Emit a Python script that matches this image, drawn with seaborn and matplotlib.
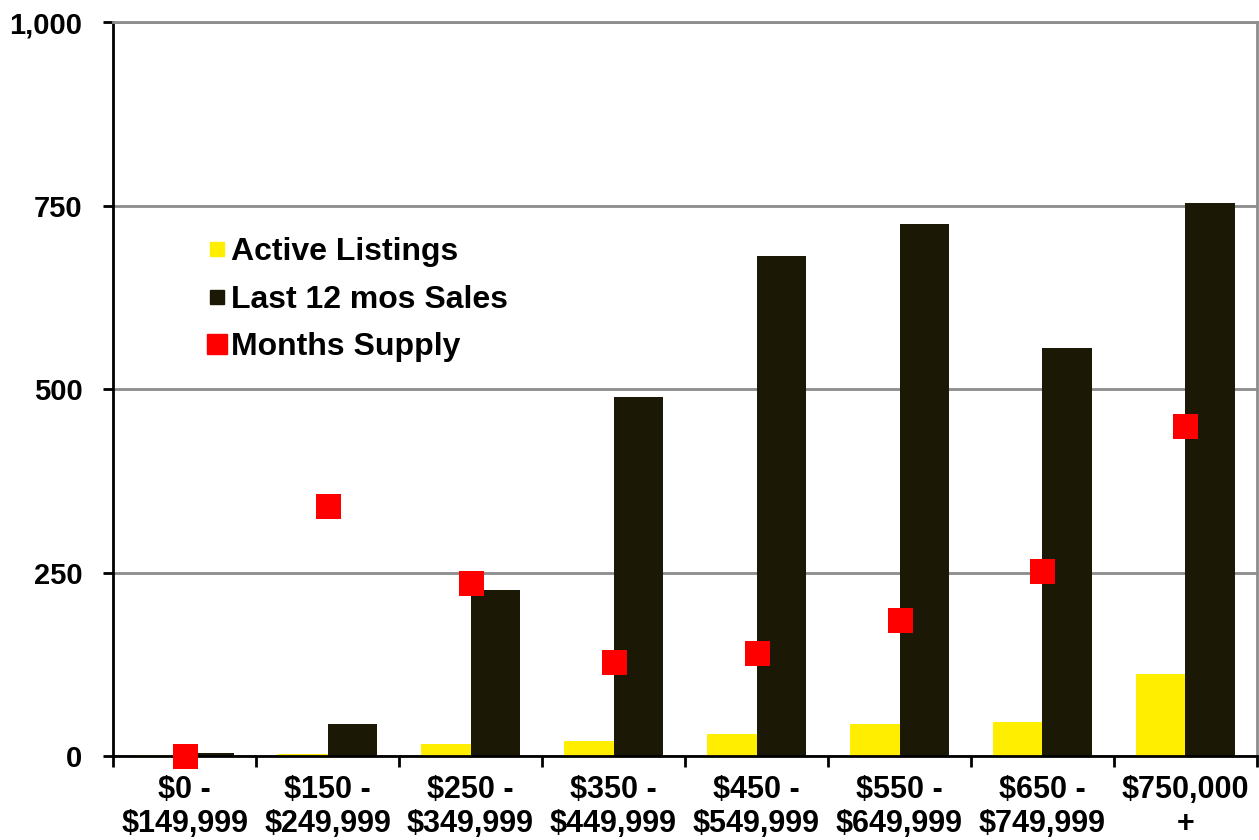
import numpy as np
import pandas as pd
import matplotlib
matplotlib.use("Agg")
import matplotlib.pyplot as plt
from matplotlib.lines import Line2D
from matplotlib.ticker import FuncFormatter, FixedLocator
import seaborn as sns

# data
price_ranges = ["$0 -\n$149,999", "$150 -\n$249,999", "$250 -\n$349,999", "$350 -\n$449,999",
                "$450 -\n$549,999", "$550 -\n$649,999", "$650 -\n$749,999", "$750,000\n+"]
active_listings = [1, 3, 16, 20, 30, 44, 46, 112]
last_12_sales = [4, 44, 226, 489, 681, 725, 556, 753]
months_supply = [0, 341, 236, 128, 140, 185, 252, 450]   # plotted on the left scale

sns.set_style("white")
plt.rcParams['font.family'] = ['Liberation Sans', 'DejaVu Sans']
plt.rcParams['font.weight'] = 'bold'
plt.rcParams['text.color'] = 'black'
plt.rcParams['xtick.color'] = 'black'
plt.rcParams['ytick.color'] = 'black'

df = pd.DataFrame({
    "range": price_ranges * 2,
    "value": active_listings + last_12_sales,
    "series": ["Active Listings"] * 8 + ["Last 12 mos Sales"] * 8,
})

yellow = "#ffee00"
dark = "#1c1806"
red = "#ff0000"

fig = plt.figure(figsize=(12.59, 8.40), dpi=100)
ax = fig.add_axes([0.0898, 0.1, 0.9086, 0.8738])

sns.barplot(data=df, x="range", y="value", hue="series", order=price_ranges,
            palette=[yellow, dark], width=0.69, gap=0, saturation=1,
            linewidth=0, legend=False, ax=ax)

sns.stripplot(x=price_ranges, y=months_supply, order=price_ranges, jitter=False,
              marker="s", size=18, color=red, linewidth=0, ax=ax, zorder=5)
for c in ax.collections:
    c.set_clip_on(False)

ax.set_xlim(-0.5, 7.5)
ax.set_ylim(0, 1000)
ax.set_yticks([0, 250, 500, 750, 1000])
ax.yaxis.set_major_formatter(FuncFormatter(lambda v, p: f"{int(v):,}"))
ax.yaxis.grid(True, color="#8c8c8c", linewidth=2)
ax.set_axisbelow(True)

# tick marks between categories, labels at centers
ax.xaxis.set_major_locator(FixedLocator(np.arange(-0.5, 8.0, 1.0)))
ax.xaxis.set_minor_locator(FixedLocator(np.arange(0, 8)))
ax.set_xticklabels([""] * 9)
ax.set_xticklabels(price_ranges, minor=True)
ax.tick_params(axis="x", which="major", direction="out", length=8, width=2, color="black", bottom=True)
ax.tick_params(axis="x", which="minor", length=0, pad=14, labelsize=22, labelcolor="black")
ax.tick_params(axis="y", direction="out", length=7, width=2, color="black", left=True,
               labelsize=21, pad=15, labelcolor="black")
for lab in ax.get_xticklabels(minor=True) + ax.get_yticklabels():
    lab.set_fontweight("bold")
for lab in ax.get_xticklabels(minor=True):
    lab.set_linespacing(1.15)

ax.set_xlabel("")
ax.set_ylabel("")
for side in ["left", "bottom"]:
    ax.spines[side].set_color("black")
    ax.spines[side].set_linewidth(2)
for side in ["top", "right"]:
    ax.spines[side].set_visible(True)
    ax.spines[side].set_color("#8c8c8c")
    ax.spines[side].set_linewidth(2)

handles = [
    Line2D([], [], marker="s", linestyle="none", markersize=10, color=yellow, label="Active Listings"),
    Line2D([], [], marker="s", linestyle="none", markersize=10, color=dark, label="Last 12 mos Sales"),
    Line2D([], [], marker="s", linestyle="none", markersize=14, color=red, label="Months Supply"),
]
leg = ax.legend(handles=handles, loc="upper left", bbox_to_anchor=(0.057, 0.746),
                frameon=False, handlelength=0.6, handletextpad=0.15, labelspacing=0.55,
                prop={"size": 23, "weight": "bold"})
for t in leg.get_texts():
    t.set_color("black")

fig.savefig("out.png", dpi=100)
